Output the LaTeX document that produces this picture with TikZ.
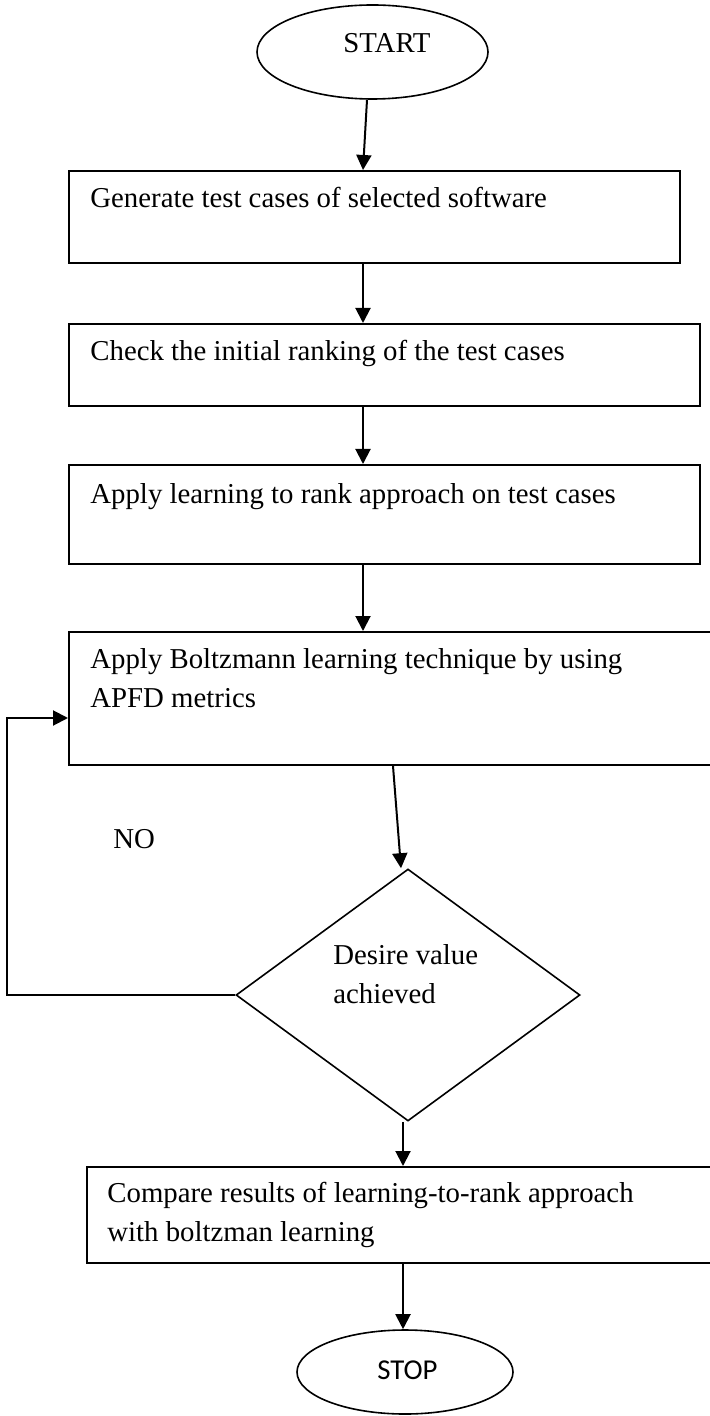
\documentclass[tikz,border=0pt]{standalone}
\usepackage{fontspec}
\setmainfont{Liberation Serif}
\newfontfamily\stopfont{Carlito}
\usetikzlibrary{shapes.geometric,arrows.meta}

\begin{document}
\begin{tikzpicture}[x=0.5pt,y=-0.5pt,
  stepbox/.style={draw,line width=1pt,anchor=north west,inner sep=0pt},
  terminal/.style={draw,ellipse,line width=0.8pt,inner sep=0pt},
  decision/.style={draw,diamond,line width=0.8pt,inner sep=0pt,minimum width=172pt,minimum height=126pt},
  txt/.style={anchor=base west,inner sep=0pt,align=left,font=\fontsize{14.4}{19.5}\selectfont},
  flow/.style={line width=1pt,-{Triangle[length=7.5pt,width=7.5pt]}}]
\useasboundingbox (0,0) rectangle (709,1416);
\coordinate (ax) at (363,0);
\coordinate (bx) at (393,0);
\coordinate (cx) at (403,0);
\coordinate (loop) at (7,718);
\node[terminal,minimum width=115.5pt,minimum height=47pt] (start) at (372.5,52) {};
\node[stepbox,minimum width=305.5pt,minimum height=46pt] (gen) at (68,170) {};
\node[stepbox,minimum width=315.5pt,minimum height=41pt] (chk) at (68,323) {};
\node[stepbox,minimum width=315.5pt,minimum height=49.5pt] (ltr) at (68,464) {};
\node[stepbox,minimum width=330pt,minimum height=66.5pt] (bol) at (68,631) {};
\node[decision] (dia) at (408,995) {};
\node[stepbox,minimum width=320pt,minimum height=48pt] (cmp) at (86,1166) {};
\node[terminal,minimum width=108pt,minimum height=42pt] (stop) at (405,1372) {};
% texts sit on the baseline of their last line
\node[txt] (starttxt) at (343,53) {START};
\node[txt] (gentxt) at (90,208) {Generate test cases of selected software};
\node[txt] (chktxt) at (90,361) {Check the initial ranking of the test cases};
\node[txt] (ltrtxt) at (90,503) {Apply learning to rank approach on test cases};
\node[txt] (boltxt) at (90,707) {Apply Boltzmann learning technique by using\\APFD metrics};
\node[txt] (diatxt) at (333,1003) {Desire value\\achieved};
\node[txt] (notxt) at (113,848) {NO};
\node[txt] (cmptxt) at (107,1241) {Compare results of learning-to-rank approach\\with boltzman learning};
\node[txt,font=\stopfont\fontsize{14.4}{19.5}\selectfont] (stoptxt) at (377,1379) {STOP};
\draw[flow] ([xshift=-2.75pt]start.south) -- (gen.north -| ax);
\draw[flow] (gen.south -| ax) -- (chk.north -| ax);
\draw[flow] (chk.south -| ax) -- (ltr.north -| ax);
\draw[flow] (ltr.south -| ax) -- (bol.north -| ax);
\draw[flow] (bol.south -| bx) -- ([xshift=-3.5pt]dia.north);
\draw[flow] (dia.south -| cx) -- (cmp.north -| cx);
\draw[flow] (cmp.south -| cx) -- (stop.north -| cx);
%% back to the Boltzmann step
\draw[flow] (dia.west) -| (loop) -- (loop -| bol.west);
\end{tikzpicture}
\end{document}
